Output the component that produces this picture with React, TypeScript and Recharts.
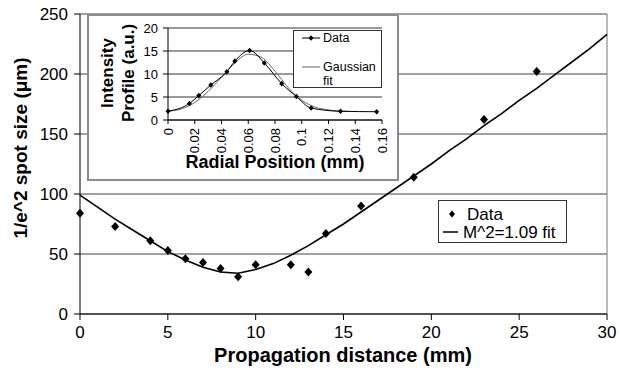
import { ComposedChart, Scatter, Line, XAxis, YAxis, CartesianGrid, ReferenceLine, Legend } from 'recharts'

// main plot: measured spot size vs propagation distance
const distanceMm = [0, 2, 4, 5, 6, 7, 8, 9, 10, 12, 13, 14, 16, 19, 23, 26]
const spotSizeUm = [84, 73, 61, 53, 46, 43, 38, 31, 41, 41, 35, 67, 90, 114, 162, 202]

// M^2 fit curve
const fitDistanceMm = [0, 1, 2, 3, 4, 5, 6, 7, 8, 9, 10, 11, 12, 13, 14, 15, 16, 17, 18, 19, 20, 21, 22, 23, 24, 25, 26, 27, 28, 29, 30]
const fitSpotSizeUm = [99, 89, 79, 70, 61, 52, 45, 39, 35, 34, 37, 42, 49, 57, 66, 75, 85, 95, 105, 115, 125, 136, 146, 157, 167, 178, 188, 199, 210, 221, 233]

const distanceTicks = [0, 5, 10, 15, 20, 25, 30]
const spotTicks = [0, 50, 100, 150, 200, 250]

// inset: intensity profile
const radialMm = [0, 0.016, 0.023, 0.032, 0.044, 0.05, 0.061, 0.072, 0.085, 0.096, 0.107, 0.129, 0.156]
const intensity = [1.9, 3.6, 5.3, 7.6, 10.5, 12.8, 15.1, 12.4, 7.9, 5.1, 2.6, 1.9, 1.8]

const gaussRadialMm = [0, 0.01, 0.02, 0.03, 0.04, 0.05, 0.06, 0.07, 0.08, 0.09, 0.1, 0.11, 0.12, 0.13, 0.135]
const gaussIntensity = [1.9, 2.4, 3.8, 6.2, 9.3, 12.4, 14.3, 13.6, 10.6, 7.0, 4.3, 2.8, 2.2, 1.9, 1.9]

const radialTicks = [0, 0.02, 0.04, 0.06, 0.08, 0.1, 0.12, 0.14, 0.16]
const intensityTicks = [0, 5, 10, 15, 20]

const points = distanceMm.map((x, i) => ({ x, y: spotSizeUm[i] }))
const fitLine = fitDistanceMm.map((x, i) => ({ x, y: fitSpotSizeUm[i] }))
const profile = radialMm.map((x, i) => ({ x, y: intensity[i] }))
const gaussFit = gaussRadialMm.map((x, i) => ({ x, y: gaussIntensity[i] }))

const FONT = '"Liberation Sans", Arial, sans-serif'

const diamondPath = (cx: number, cy: number, w: number, h: number) =>
  `M${cx},${cy - h}L${cx + w},${cy}L${cx},${cy + h}L${cx - w},${cy}Z`

const BigDiamond = (props: any) => <path d={diamondPath(props.cx, props.cy, 4, 4.5)} fill="#000" />

const SmallDiamond = (props: any) => {
  if (props.cx == null || props.cy == null) return null
  return <path key={props.index} d={diamondPath(props.cx, props.cy, 2.5, 2.8)} fill="#000" />
}

function MainLegend() {
  return (
    <div style={{ width: 129, height: 43, border: '1px solid #333', background: '#fff', boxSizing: 'border-box' }}>
      <svg width={127} height={41} style={{ display: 'block' }}>
        <path d={diamondPath(13, 13, 3, 3.5)} fill="#000" />
        <text x={28} y={13} fontSize={17} dominantBaseline="central" fill="#000">Data</text>
        <line x1={4} x2={19} y1={31} y2={31} stroke="#000" strokeWidth={1.5} />
        <text x={24} y={31} fontSize={17} dominantBaseline="central" fill="#000">M^2=1.09 fit</text>
      </svg>
    </div>
  )
}

function InsetLegend() {
  return (
    <div style={{ width: 89, height: 58, border: '1px solid #333', background: '#fff', boxSizing: 'border-box' }}>
      <svg width={87} height={56} style={{ display: 'block' }}>
        <line x1={8} x2={26} y1={7} y2={7} stroke="#000" strokeWidth={1} />
        <path d={diamondPath(17, 7, 2.5, 2.8)} fill="#000" />
        <text x={29} y={7} fontSize={12.5} dominantBaseline="central" fill="#000">Data</text>
        <line x1={8} x2={26} y1={36} y2={36} stroke="#666" strokeWidth={1} />
        <text x={29} y={36} fontSize={12.5} dominantBaseline="central" fill="#000">Gaussian</text>
        <text x={29} y={50} fontSize={12.5} dominantBaseline="central" fill="#000">fit</text>
      </svg>
    </div>
  )
}

const RadialTick = ({ x, y, payload }: any) => (
  <text x={x} y={y} transform={`rotate(-90, ${x}, ${y})`} textAnchor="end" dy="0.35em" fontSize={13} fill="#000">
    {String(payload.value)}
  </text>
)

function InsetChart() {
  return (
    <div
      style={{
        position: 'absolute',
        left: 87,
        top: 14,
        width: 312,
        height: 167,
        border: '2px solid #8c8c8c',
        background: '#fff',
        boxSizing: 'border-box',
      }}
    >
      <ComposedChart width={308} height={163} margin={{ top: 12, right: 15, bottom: 0, left: 0 }}>
        <CartesianGrid vertical={false} stroke="#333" />
        <XAxis
          type="number"
          dataKey="x"
          domain={[0, 0.16]}
          ticks={radialTicks}
          interval={0}
          height={59}
          stroke="#000"
          tickSize={4}
          tickMargin={4}
          tick={<RadialTick />}
          label={{
            content: () => (
              <text x={186} y={146} textAnchor="middle" dominantBaseline="central" fontSize={18} fontWeight="bold" fill="#000">
                Radial Position (mm)
              </text>
            ),
          }}
        />
        <YAxis
          type="number"
          dataKey="y"
          domain={[0, 20]}
          ticks={intensityTicks}
          interval={0}
          width={79}
          stroke="#000"
          tickSize={5}
          tickMargin={5}
          tick={{ fontSize: 13, fill: '#000' }}
          label={{
            content: () => (
              <g fontSize={17} fontWeight="bold" fill="#000">
                <text x={18} y={57} transform="rotate(-90, 18, 57)" textAnchor="middle" dominantBaseline="central">Intensity</text>
                <text x={39} y={57} transform="rotate(-90, 39, 57)" textAnchor="middle" dominantBaseline="central">Profile (a.u.)</text>
              </g>
            ),
          }}
        />
        <Line data={gaussFit} dataKey="y" type="monotone" stroke="#666" strokeWidth={1} dot={false} isAnimationActive={false} />
        <Line data={profile} dataKey="y" type="monotone" stroke="#000" strokeWidth={1} dot={<SmallDiamond />} isAnimationActive={false} />
        <Legend content={<InsetLegend />} layout="horizontal" verticalAlign="middle" align="center" wrapperStyle={{ left: 204, top: 14, width: 89 }} />
      </ComposedChart>
    </div>
  )
}

export default function App() {
  return (
    <div style={{ position: 'absolute', left: 0, top: 0, width: 620, height: 377, background: '#fff', fontFamily: FONT }}>
      <ComposedChart width={620} height={377} margin={{ top: 14, right: 13, bottom: 0, left: 0 }}>
        <CartesianGrid vertical={false} stroke="#444" />
        <XAxis
          type="number"
          dataKey="x"
          domain={[0, 30]}
          ticks={distanceTicks}
          interval={0}
          height={63}
          stroke="#000"
          tickSize={6}
          tickMargin={6}
          tick={{ fontSize: 17, fill: '#000' }}
          label={{
            content: () => (
              <text x={343} y={355} textAnchor="middle" dominantBaseline="central" fontSize={20} fontWeight="bold" fill="#000">
                Propagation distance (mm)
              </text>
            ),
          }}
        />
        <YAxis
          type="number"
          dataKey="y"
          domain={[0, 250]}
          ticks={spotTicks}
          interval={0}
          width={80}
          stroke="#000"
          tickSize={6}
          tickMargin={6}
          tick={{ fontSize: 17, fill: '#000' }}
          label={{
            content: () => (
              <text x={20} y={148} transform="rotate(-90, 20, 148)" textAnchor="middle" dominantBaseline="central" fontSize={19} fontWeight="bold" fill="#000">
                1/e^2 spot size (μm)
              </text>
            ),
          }}
        />
        <ReferenceLine x={30} stroke="#777" />
        <Line data={fitLine} dataKey="y" type="linear" stroke="#000" strokeWidth={1.6} dot={false} isAnimationActive={false} />
        <Scatter data={points} dataKey="y" fill="#000" shape={BigDiamond} isAnimationActive={false} />
        <Legend content={<MainLegend />} layout="horizontal" verticalAlign="middle" align="center" wrapperStyle={{ left: 438, top: 200, width: 129 }} />
      </ComposedChart>
      <InsetChart />
    </div>
  )
}
